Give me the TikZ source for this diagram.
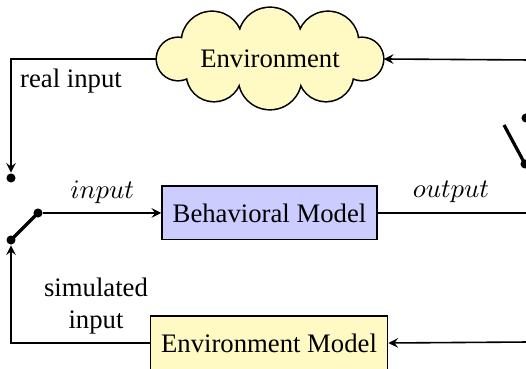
\documentclass[tikz,border=0pt]{standalone}
\usepackage{fontspec}
\setmainfont{Liberation Serif}

\definecolor{envyellow}{RGB}{255,249,196}
\definecolor{modelblue}{RGB}{204,204,255}

% the puffs of the cloud, as one path
\newcommand{\cloudpuffs}{
    (178,59) circle (21) (212,42) circle (30) (270,39) circle (31)
    (328,42) circle (30) (362,59) circle (21)
    (214,74) circle (27) (270,78) circle (31) (326,74) circle (27)}

\begin{document}
\begin{tikzpicture}[x=0.3745pt,y=-0.3745pt,semithick,
    block/.style={draw, rectangle, minimum height=20pt, inner sep=4pt},
    contact/.style={circle, fill, inner sep=0pt, minimum size=3.4pt},
    lever/.style={line width=1.2pt}]
    \useasboundingbox (0,0) rectangle (526,369);
    \clip (0,0) rectangle (526,369);
    % cloud: thick outline of all puffs, then fill over the inner half
    \draw[line width=1.2pt] \cloudpuffs;
    \fill[envyellow] \cloudpuffs (270,59) ellipse (85 and 22);
    \node[minimum width=84.6pt, minimum height=37pt, inner sep=0pt] (env) at (270,59) {Environment};
    % the two models
    \node[block, fill=modelblue] (bm) at (269.5,213) {Behavioral Model};
    \node[block, fill=envyellow] (em) at (269,343) {Environment Model};
    % input switch
    \node[contact] (realin) at (11,178) {};
    \node[contact] (pivot) at (11,240) {};
    \node[contact] (swout) at (38,213) {};
    \draw[lever] (pivot.center) -- (swout.center);
    % output switch, mostly off to the right
    \node[contact] (outa) at (526,118) {};
    \node[contact] (outpivot) at (525,164) {};
    \coordinate (outlever) at (504,125);
    \draw[lever] (outpivot.center) -- (outlever);
    \coordinate (topr) at (530,60);
    \coordinate (midr) at (530,213);
    \coordinate (botr) at (530,342);
    % connections
    \draw[-stealth] (env.west) -| (realin);
    \draw[-stealth] (em.west) -| (pivot);
    \draw[-stealth] (swout) -- node[above] {$input$} (bm);
    \draw (bm.east) -- (midr);
    \node (outlabel) at (451,192) {$output$};
    \draw[-stealth] (topr) -- (env.east);
    \draw[-stealth] (botr) -- (em.east);
    \node (reallabel) at (71,81) {real input};
    \node[align=center] (simlabel) at (96,306) {simulated\\input};
\end{tikzpicture}
\end{document}
